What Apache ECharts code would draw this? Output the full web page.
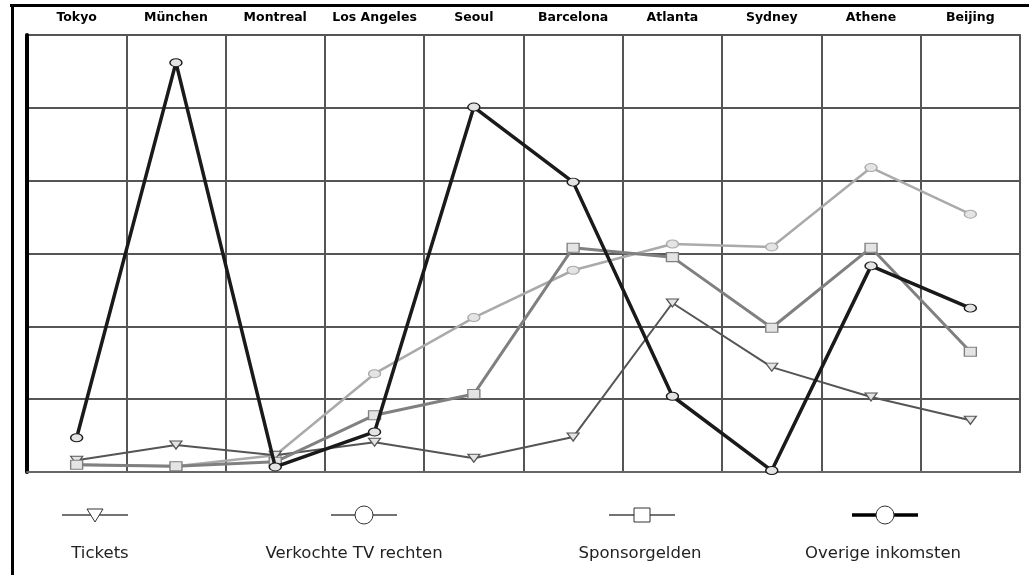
<!DOCTYPE html>
<html>
<head>
<meta charset="utf-8">
<script src="https://cdn.jsdelivr.net/npm/echarts@6/dist/echarts.min.js"></script>
<style>
html,body{margin:0;padding:0;background:#fff;}
#c{width:1029px;height:575px;}
</style>
</head>
<body>
<div id="c"></div>
<script>
const categories = ['Tokyo','München','Montreal','Los Angeles','Seoul','Barcelona','Atlanta','Sydney','Athene','Beijing'];
const tickets   = [0.16, 0.37, 0.23, 0.41, 0.19, 0.48, 2.32, 1.44, 1.03, 0.71];
const tvRechten = [0.10, 0.08, 0.23, 1.35, 2.12, 2.77, 3.13, 3.09, 4.18, 3.54];
const sponsor   = [0.10, 0.08, 0.14, 0.78, 1.07, 3.08, 2.95, 1.98, 3.08, 1.65];
const overige   = [0.47, 5.62, 0.07, 0.55, 5.01, 3.98, 1.04, 0.02, 2.83, 2.25];
const seriesNames = ['Tickets','Verkochte TV rechten','Sponsorgelden','Overige inkomsten'];

const chart = echarts.init(document.getElementById('c'));

function legendItem(cx, tx, lineColor, lineWidth, symbolShape, label) {
  const items = [
    {type:'line', shape:{x1:cx-33,y1:515,x2:cx+33,y2:515}, style:{stroke:lineColor,lineWidth:lineWidth}, z:10}
  ];
  if (symbolShape === 'tri') {
    items.push({type:'polygon', shape:{points:[[cx-8,509],[cx+8,509],[cx,522]]}, style:{fill:'#fff',stroke:'#333',lineWidth:1}, z:11});
  } else if (symbolShape === 'circle') {
    items.push({type:'circle', shape:{cx:cx,cy:515,r:9}, style:{fill:'#fff',stroke:'#333',lineWidth:1}, z:11});
  } else {
    items.push({type:'rect', shape:{x:cx-8,y:508,width:16,height:14}, style:{fill:'#fff',stroke:'#333',lineWidth:1}, z:11});
  }
  items.push({type:'text', style:{x:tx,y:554,text:label,fill:'#222',font:'16.5px "DejaVu Sans"',align:'center',verticalAlign:'middle'}, z:11});
  return items;
}

const graphics = [
  {type:'line', shape:{x1:10,y1:5.5,x2:1029,y2:5.5}, style:{stroke:'#000',lineWidth:3}, z:10},
  {type:'line', shape:{x1:12.5,y1:5,x2:12.5,y2:575}, style:{stroke:'#000',lineWidth:3}, z:10}
].concat(
  legendItem(95, 100, '#444',1.5,'tri',seriesNames[0]),
  legendItem(364, 354, '#444',1.5,'circle',seriesNames[1]),
  legendItem(642, 640, '#444',1.5,'rect',seriesNames[2]),
  legendItem(885, 883, '#000',3.5,'circle',seriesNames[3])
);

function mk(name, data, color, width, symbol, rotate, z) {
  return {
    name: name, type:'line', data: data, z: z,
    symbol: symbol, symbolRotate: rotate, symbolSize: symbol === 'rect' ? [12,9] : [12,8],
    lineStyle:{color: color, width: width},
    itemStyle:{color:'#e4e4e4', borderColor: color, borderWidth: 1.2},
    emphasis:{disabled:true}, animation:false
  };
}

chart.setOption({
  animation:false,
  backgroundColor:'#fff',
  grid:{left:27, right:9, top:35, bottom:103, show:true, borderColor:'#666', borderWidth:2},
  xAxis:{
    type:'category', data:categories, position:'top', boundaryGap:true,
    axisLine:{show:true, lineStyle:{color:'#666', width:2}},
    axisTick:{show:false},
    axisLabel:{color:'#000', fontWeight:'bold', fontSize:12.5, fontFamily:'DejaVu Sans', margin:11, interval:0},
    splitLine:{show:true, lineStyle:{color:'#555', width:2}}
  },
  yAxis:{
    type:'value', min:0, max:6, interval:1,
    axisLine:{show:true, lineStyle:{color:'#000', width:4}},
    axisTick:{show:false}, axisLabel:{show:false},
    splitLine:{show:true, lineStyle:{color:'#555', width:2}}
  },
  graphic: graphics,
  series:[
    mk(seriesNames[0], tickets, '#555', 2, 'triangle', 180, 3),
    mk(seriesNames[1], tvRechten, '#aaa', 2.5, 'circle', 0, 2),
    mk(seriesNames[2], sponsor, '#808080', 3, 'rect', 0, 4),
    mk(seriesNames[3], overige, '#1a1a1a', 3.5, 'circle', 0, 5)
  ]
});
</script>
</body>
</html>
